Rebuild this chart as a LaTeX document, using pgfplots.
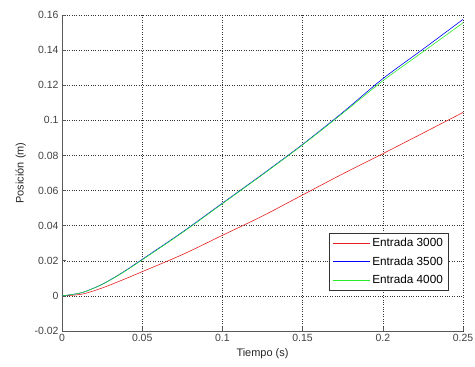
\documentclass[border=0pt]{standalone}
\usepackage{fontspec}
\setmainfont{Liberation Sans}
\usepackage{pgfplots}
\pgfplotsset{compat=1.18}
\definecolor{mred}{RGB}{230,30,30}
\definecolor{mblue}{RGB}{0,0,255}
\definecolor{mgreen}{RGB}{40,235,40}
\begin{document}
\begin{tikzpicture}
\begin{axis}[
  name=ax,
  scale only axis,
  width=401bp, height=316bp,
  xmin=0, xmax=0.25, ymin=-0.02, ymax=0.16,
  xtick={0,0.05,0.1,0.15,0.2,0.25},
  ytick={-0.02,0,0.02,0.04,0.06,0.08,0.1,0.12,0.14,0.16},
  scaled ticks=false,
  /pgf/number format/assume math mode=true,
  /pgf/number format/fixed,
  /pgf/number format/precision=2,
  xticklabel style={font=\fontsize{10.5}{12}\selectfont, text=black!75},
  yticklabel style={font=\fontsize{10.5}{12}\selectfont, text=black!75},
  axis x line=bottom, axis y line=left,
  axis line style={gray!70!black, line width=0.9pt, -},
  tick align=inside,
  major tick length=4bp,
  tick style={gray!70!black, line width=0.6pt},
  grid=major,
  major grid style={black!80, dotted, line width=0.5pt},
  xlabel={Tiempo (s)}, ylabel={Posición (m)},
  label style={font=\fontsize{11}{12}\selectfont, text=black!85},
  ylabel style={yshift=2bp},
  legend style={at={(0.963,0.310)}, anchor=north east,
    font=\fontsize{11.8}{13}\selectfont, draw=black!80, line width=0.6pt,
    row sep=4.5bp, inner sep=3bp},
  legend cell align=left,
  legend image code/.code={\draw[#1, line width=0.8pt] (0bp,0bp) -- (37bp,0bp);},
]
\addplot[mred, line width=0.6pt, smooth] coordinates {
(0,0) (0.0125,0.001) (0.025,0.0045) (0.0375,0.009) (0.05,0.0138)
(0.075,0.0235) (0.1,0.0345) (0.125,0.0455) (0.15,0.0575) (0.175,0.0695)
(0.2,0.081) (0.225,0.0927) (0.25,0.1045)};
\addlegendentry{Entrada 3000}
\addplot[mblue, line width=0.6pt, smooth] coordinates {
(0,0) (0.0125,0.0019) (0.025,0.0066) (0.0375,0.0132) (0.05,0.0208)
(0.075,0.0363) (0.1,0.0528) (0.125,0.0693) (0.15,0.0863) (0.175,0.1045)
(0.2,0.1237) (0.225,0.1405) (0.25,0.1575)};
\addlegendentry{Entrada 3500}
\addplot[mgreen, line width=0.6pt, smooth] coordinates {
(0,0) (0.0125,0.0019) (0.025,0.0065) (0.0375,0.013) (0.05,0.0205)
(0.075,0.036) (0.1,0.0525) (0.125,0.069) (0.15,0.086) (0.175,0.1040)
(0.2,0.1225) (0.225,0.139) (0.25,0.1555)};
\addlegendentry{Entrada 4000}
\end{axis}
\pgfresetboundingbox
\path[use as bounding box] ([shift={(-62bp,-36bp)}]ax.south west) rectangle ([shift={(12bp,15bp)}]ax.north east);
\end{tikzpicture}
\end{document}
